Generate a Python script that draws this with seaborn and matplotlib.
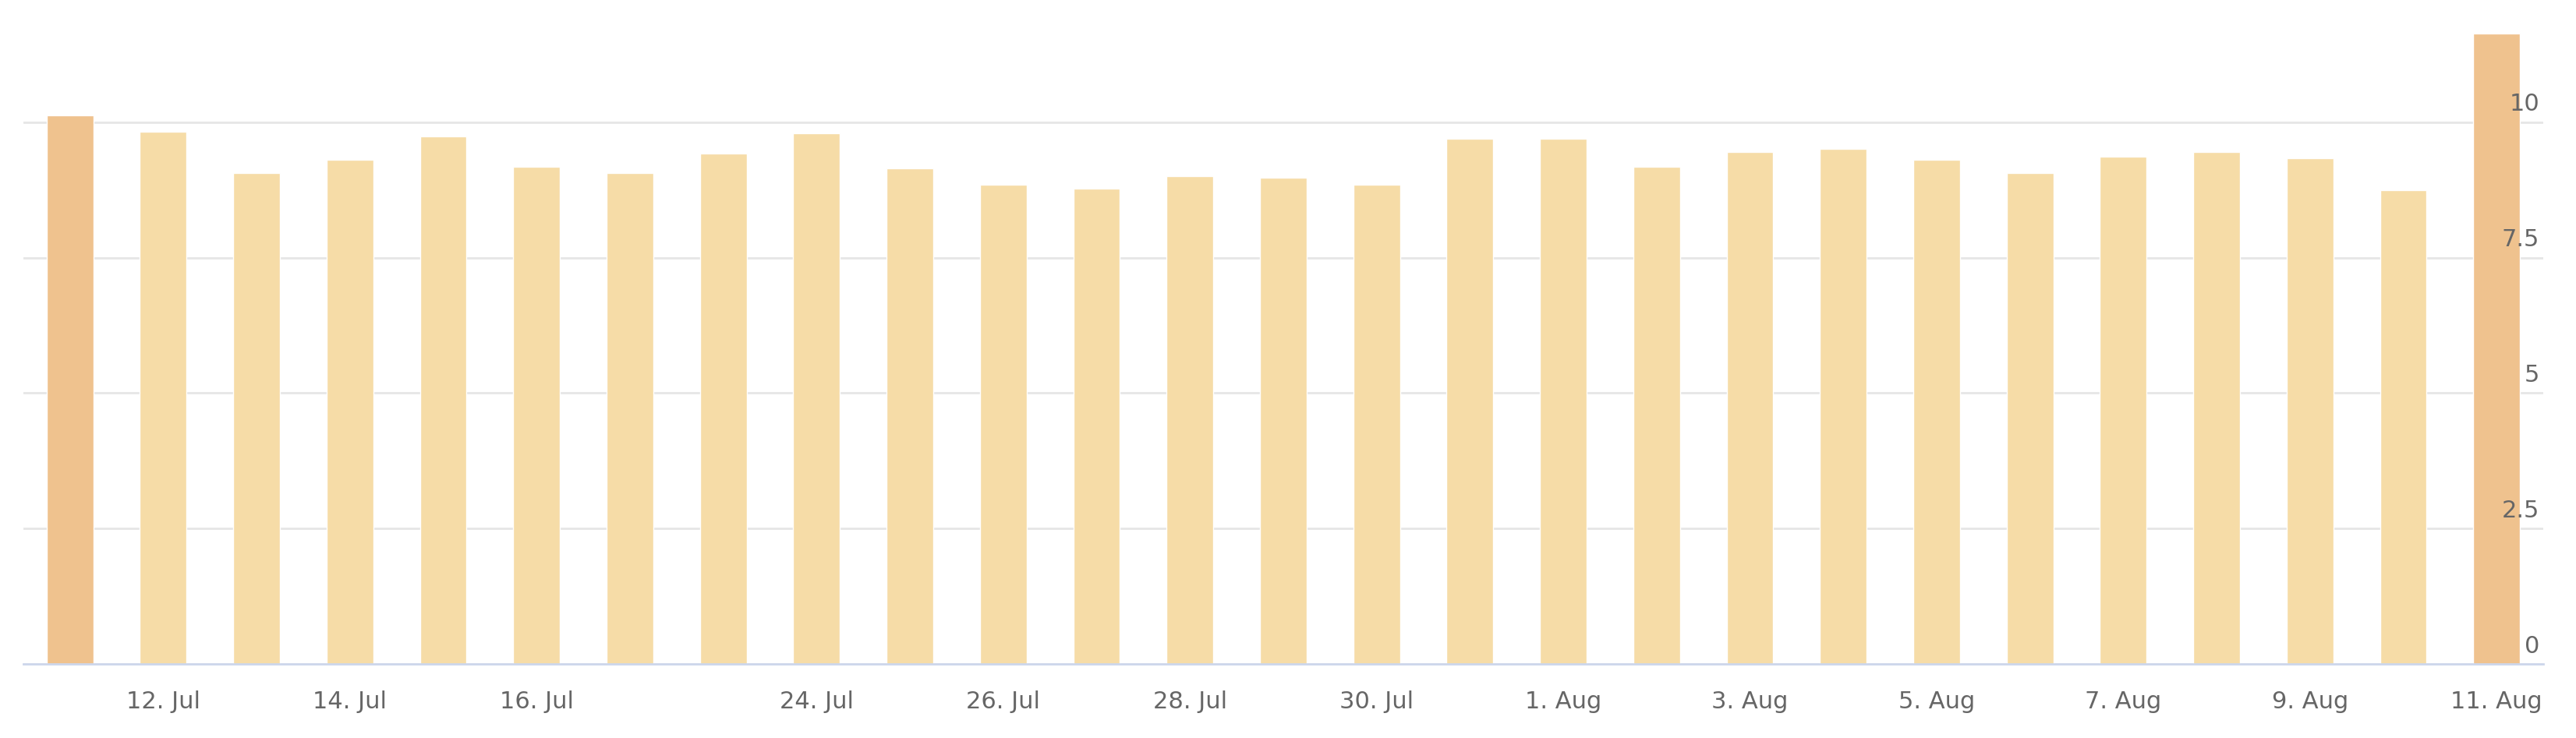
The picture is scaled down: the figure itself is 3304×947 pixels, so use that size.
import matplotlib
matplotlib.use("Agg")
import matplotlib.pyplot as plt
import seaborn as sns
import pandas as pd

dates = ["11 Jul","12 Jul","13 Jul","14 Jul","15 Jul","16 Jul","17 Jul","23 Jul","24 Jul","25 Jul",
         "26 Jul","27 Jul","28 Jul","29 Jul","30 Jul","31 Jul","1 Aug","2 Aug","3 Aug","4 Aug",
         "5 Aug","6 Aug","7 Aug","8 Aug","9 Aug","10 Aug","11 Aug"]
values = [10.12,9.82,9.06,9.30,9.73,9.18,9.06,9.42,9.79,9.15,8.84,8.78,9.00,8.97,8.84,9.70,9.70,
          9.18,9.45,9.51,9.30,9.06,9.36,9.45,9.33,8.75,11.64]
tick_labels = {"12 Jul":"12. Jul","14 Jul":"14. Jul","16 Jul":"16. Jul","24 Jul":"24. Jul",
               "26 Jul":"26. Jul","28 Jul":"28. Jul","30 Jul":"30. Jul","1 Aug":"1. Aug",
               "3 Aug":"3. Aug","5 Aug":"5. Aug","7 Aug":"7. Aug","9 Aug":"9. Aug","11 Aug":"11. Aug"}
y_ticks = [0, 2.5, 5, 7.5, 10]
y_labels = ["0", "2.5", "5", "7.5", "10"]

sns.set_style("white")
plt.rcParams['font.family'] = ['DejaVu Sans']
df = pd.DataFrame({"date": dates, "value": values})
palette = ["#EFC28E" if i in (0, len(dates)-1) else "#F6DCA7" for i in range(len(dates))]

fig = plt.figure(figsize=(33.05, 9.47), dpi=100)
ax = fig.add_axes([0.009, 0.10, 0.978, 0.855])
sns.barplot(data=df, x="date", y="value", hue="date", palette=palette, legend=False,
            width=0.5, saturation=1, ax=ax, zorder=3)
ax.set_xlim(-0.5, len(dates)-0.5)
ax.set_ylim(0, 11.64)
ax.set_yticks(y_ticks)
ax.set_yticklabels([])
ax.tick_params(axis="y", length=0)
ax.grid(axis="y", color="#E6E6E6", linewidth=2, zorder=0)
for t, l in zip(y_ticks, y_labels):
    ax.text(0.9985, t + 0.12, l, transform=ax.get_yaxis_transform(), ha="right", va="bottom",
            fontsize=22, color="#666666", zorder=5)
pos = [i for i, d in enumerate(dates) if d in tick_labels]
ax.set_xticks(pos)
ax.set_xticklabels([tick_labels[dates[i]] for i in pos])
ax.tick_params(axis="x", length=20, width=2, color="#CCD6EB", labelsize=22, labelcolor="#666666", pad=4)
for s in ["top", "left", "right"]:
    ax.spines[s].set_visible(False)
ax.spines["bottom"].set_color("#CCD6EB")
ax.spines["bottom"].set_linewidth(2)
ax.spines["bottom"].set_zorder(4)
ax.set_xlabel(""); ax.set_ylabel("")
fig.savefig("out.png", dpi=100)
